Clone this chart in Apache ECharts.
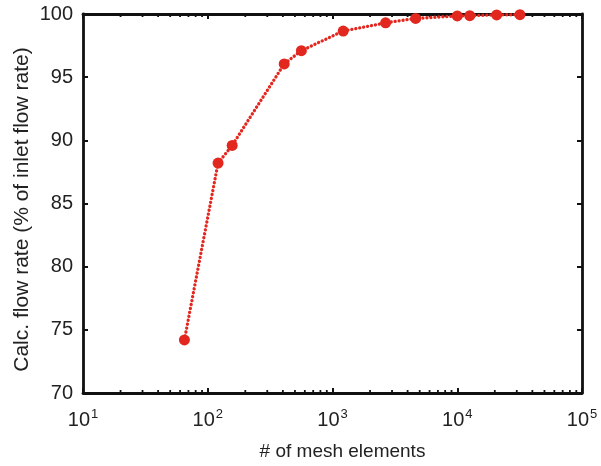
<!DOCTYPE html>
<html><head><meta charset="utf-8">
<script src="https://cdn.jsdelivr.net/npm/echarts@6/dist/echarts.min.js"></script>
<style>html,body{margin:0;padding:0;background:#fff}#c{width:601px;height:466px}</style>
</head><body><div id="c"></div>
<script>
var meshElements = [65, 121, 157, 410, 563, 1218, 2665, 4640, 10000, 12600, 20700, 31800];
var flowRate = [74.2, 88.2, 89.6, 96.05, 97.1, 98.65, 99.3, 99.65, 99.85, 99.87, 99.93, 99.95];
var yTicks = [70, 75, 80, 85, 90, 95, 100];
var xMajor = [10, 100, 1000, 10000, 100000];
var minorTicks = [];
for (var d = 10; d < 100000; d *= 10) { for (var k = 2; k <= 9; k++) minorTicks.push(d * k); }

var font = 'Arial, "Liberation Sans", sans-serif';
var chart = echarts.init(document.getElementById('c'), null, {renderer: 'canvas'});
var lineCol = '#111';
var txtCol = '#222';
function xAxisBase(pos, labels) {
  return {
    type: 'log', logBase: 10, min: 10, max: 100000, position: pos,
    axisLine: {show: true, onZero: false, lineStyle: {color: lineCol, width: 2.8}},
    axisTick: {show: true, inside: true, length: 5, lineStyle: {color: lineCol, width: 2}},
    splitLine: {show: false}, minorTick: {show: false},
    axisLabel: labels ? {
      show: true, margin: 15, color: txtCol, fontFamily: font,
      formatter: function (v) { var e = Math.round(Math.log10(v)); return '{b|10}{s|' + e + '}'; },
      rich: {b: {fontSize: 20, fontFamily: font, color: txtCol, lineHeight: 24},
             s: {fontSize: 13, fontFamily: font, color: txtCol, padding: [0, 0, 12, 1]}}
    } : {show: false}
  };
}
function yAxisBase(pos, labels) {
  return {
    type: 'value', min: 70, max: 100, interval: 5, position: pos,
    axisLine: {show: true, onZero: false, lineStyle: {color: lineCol, width: 2.8}},
    axisTick: {show: true, inside: true, length: 5, lineStyle: {color: lineCol, width: 2}},
    splitLine: {show: false},
    axisLabel: labels ? {show: true, margin: 10, color: txtCol, fontSize: 20, fontFamily: font,
      customValues: yTicks} : {show: false}
  };
}
var xb = xAxisBase('bottom', true);
xb.name = '# of mesh elements';
xb.nameLocation = 'middle'; xb.nameGap = 49;
xb.nameTextStyle = {fontSize: 19, fontFamily: font, color: txtCol, padding: [0, 0, 0, 20]};
var yl = yAxisBase('left', true);
yl.name = 'Calc. flow rate (% of inlet flow rate)';
yl.nameLocation = 'middle'; yl.nameGap = 50; yl.nameMoveOverlap = false;
yl.nameTextStyle = {fontSize: 21, fontFamily: font, color: txtCol, padding: [0, 12, 0, 0]};

chart.setOption({
  animation: false,
  backgroundColor: '#fff',
  grid: {left: 83, right: 19, top: 14, bottom: 72, containLabel: false},
  xAxis: [xb, xAxisBase('top', false)],
  yAxis: [yl, yAxisBase('right', false)],
  series: [
    {
      type: 'custom', xAxisIndex: 0, yAxisIndex: 0, silent: true, z: 1,
      data: minorTicks.map(function (v) { return [v]; }),
      renderItem: function (params, api) {
        var p = api.coord([api.value(0), 70]);
        var t = api.coord([api.value(0), 100]);
        var st = {stroke: lineCol, lineWidth: 1.8};
        return {type: 'group', children: [
          {type: 'line', shape: {x1: p[0], y1: p[1], x2: p[0], y2: p[1] - 3}, style: st},
          {type: 'line', shape: {x1: t[0], y1: t[1], x2: t[0], y2: t[1] + 3}, style: st}
        ]};
      }
    },
    {
      type: 'line', xAxisIndex: 0, yAxisIndex: 0, z: 3,
      data: meshElements.map(function (m, i) { return [m, flowRate[i]]; }),
      symbol: 'circle', symbolSize: 11,
      itemStyle: {color: '#e2271f'},
      lineStyle: {color: '#e2271f', width: 3.3, type: [0.1, 3.9], cap: 'round'}
    }
  ]
});
</script></body></html>
